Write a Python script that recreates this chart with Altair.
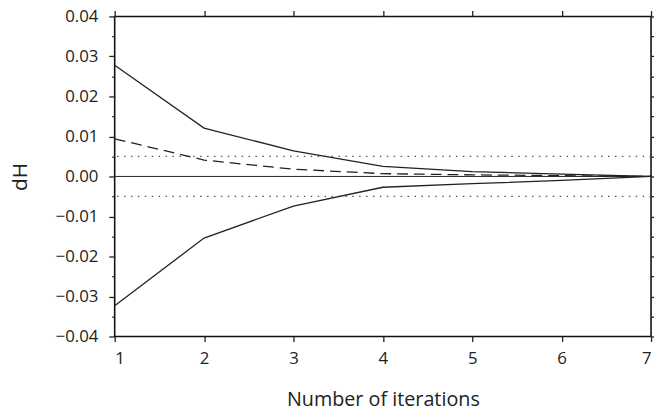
import altair as alt
import pandas as pd

iterations = [1, 2, 3, 4, 5, 6, 7]
upper = [0.0278, 0.0121, 0.0064, 0.0025, 0.0012, 0.0006, 0.0]
lower = [-0.0323, -0.0154, -0.0074, -0.0027, -0.0018, -0.0010, 0.0]
mean = [0.0094, 0.0041, 0.0018, 0.0007, 0.0004, 0.0002, 0.0]
thresholds = [0.005, -0.005]
zero_line = [0.0]

major_y = [-0.04, -0.03, -0.02, -0.01, 0.0, 0.01, 0.02, 0.03, 0.04]
minor_y = [-0.035, -0.025, -0.015, -0.005, 0.005, 0.015, 0.025, 0.035]
all_y = sorted(major_y + minor_y)

FONT = "Open Sans"

bounds = pd.DataFrame({
    "it": iterations * 2,
    "dH": upper + lower,
    "series": ["upper"] * 7 + ["lower"] * 7,
})
mid = pd.DataFrame({"it": iterations, "dH": mean})
thr = pd.DataFrame({"y": thresholds})
zer = pd.DataFrame({"y": zero_line})

xs = alt.Scale(domain=[1, 7], nice=False, zero=False)
ys = alt.Scale(domain=[-0.04, 0.04], nice=False, zero=False)

solid = alt.Chart(bounds).mark_line(color="#222222", strokeWidth=1.3).encode(
    x=alt.X("it:Q", scale=xs, axis=alt.Axis(
        orient="bottom", values=iterations, format="d", tickSize=5, tickWidth=1.3,
        tickColor="#222222", labelFontSize=17, labelFont=FONT, labelColor="#222222",
        labelPadding=9, domain=False, grid=False,
        title="Number of iterations", titleFont=FONT, titleFontSize=20,
        titleFontWeight="normal", titleColor="#222222",
        titleY=70, titleBaseline="alphabetic")),
    y=alt.Y("dH:Q", scale=ys, axis=alt.Axis(
        orient="left", values=major_y, format=".2f", tickSize=6, tickWidth=1.3,
        tickColor="#222222", labelFontSize=17, labelFont=FONT, labelColor="#222222",
        labelPadding=11, domain=False, grid=False,
        title="dH", titleFont=FONT, titleFontSize=21, titleFontWeight="normal",
        titleColor="#222222", titleX=-95, titleY=162, titleAngle=-90,
        titleBaseline="middle", titleAlign="center")),
    detail="series:N",
)

dashed = alt.Chart(mid).mark_line(color="#222222", strokeWidth=1.3, strokeDash=[11, 6]).encode(
    x=alt.X("it:Q", scale=xs, axis=alt.Axis(
        orient="top", values=iterations, tickSize=6, tickWidth=1.3, tickColor="#222222",
        labels=False, domain=False, grid=False, title=None)),
    y=alt.Y("dH:Q", scale=ys, axis=alt.Axis(
        orient="right", values=all_y, tickSize=3, tickWidth=1.3, tickColor="#222222",
        labels=False, domain=False, grid=False, title=None)),
)

dotted = alt.Chart(thr).mark_rule(color="#555555", strokeWidth=1.3, strokeDash=[1.5, 5.5]).encode(
    y=alt.Y("y:Q", scale=ys, axis=alt.Axis(
        orient="left", values=minor_y, tickSize=3, tickWidth=1.3, tickColor="#222222",
        labels=False, domain=False, grid=False, title=None)),
)

zero = alt.Chart(zer).mark_rule(color="#222222", strokeWidth=1).encode(
    y=alt.Y("y:Q", scale=ys, axis=None),
)

chart = alt.layer(dotted, zero, dashed, solid).resolve_axis(
    x="independent", y="independent"
).properties(
    width=543, height=324,
    background="white",
    autosize=alt.AutoSizeParams(type="none"),
    padding={"left": 108, "top": 6, "right": 3, "bottom": 80},
).configure_view(
    stroke="#111111", strokeWidth=1.6
)

chart.save("out.html", embed_options={"renderer": "svg", "actions": False})
